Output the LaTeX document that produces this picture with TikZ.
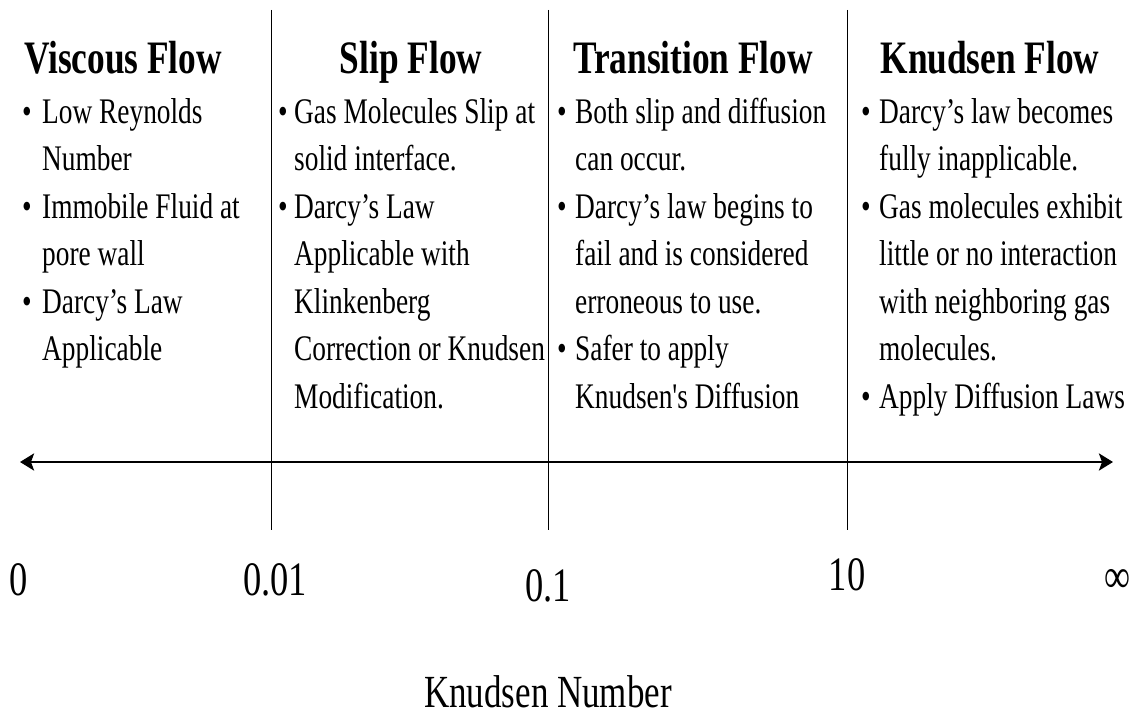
\documentclass[tikz,border=0pt]{standalone}
\usepackage{fontspec}
\setmainfont{Liberation Serif}[FakeStretch=0.76]
\newfontfamily\noligfont{Liberation Serif}[FakeStretch=0.76]
\usetikzlibrary{arrows.meta}
\tikzset{
  divider/.style={line width=0.9pt, black},
  axisline/.style={line width=2.8pt, black, {Stealth[length=14pt,width=17pt,inset=3pt]}-{Stealth[length=14pt,width=17pt,inset=3pt]}},
  titletxt/.style={inner sep=0pt, anchor=base, font=\fontsize{46.5pt}{50pt}\selectfont\bfseries},
  bodytxt/.style={inner sep=0pt, anchor=base west, font=\fontsize{36pt}{47.5pt}\selectfont},
  bul/.style={inner sep=0pt, anchor=base, font=\fontsize{36pt}{47.5pt}\selectfont},
  numtxt/.style={inner sep=0pt, anchor=base, font=\fontsize{48pt}{52pt}\selectfont},
  axislabel/.style={inner sep=0pt, anchor=base, font=\fontsize{46pt}{50pt}\selectfont},
}
\begin{document}
\begin{tikzpicture}[x=1pt,y=-1pt]
\useasboundingbox[fill=white] (0,0) rectangle (1132,717);

% dividers
\coordinate (t1) at (271,10);  \coordinate (b1) at (271,530);
\coordinate (t2) at (548,10);  \coordinate (b2) at (548,530);
\coordinate (t3) at (847,10);  \coordinate (b3) at (847,530);
\draw[divider] (t1) -- (b1);
\draw[divider] (t2) -- (b2);
\draw[divider] (t3) -- (b3);

% axis
\coordinate (axL) at (20,462);
\coordinate (axR) at (1113,462);
\draw[axisline] (axL) -- (axR);

% titles
\node[titletxt] (h1) at (123,74) {Viscous Flow};
\node[titletxt] (h2) at (411,74) {Slip Flow};
\node[titletxt] (h3) at (693,74) {Transition Flow};
\node[titletxt] (h4) at (990,74) {Knudsen Flow};

% column 1
\node[bul] (c1b1) at (27,123) {•};
\node[bodytxt] (c1l1) at (42,123) {Low Reynolds};
\node[bodytxt] (c1l2) at (42,170.5) {Number};
\node[bul] (c1b2) at (27,218) {•};
\node[bodytxt] (c1l3) at (42,218) {Immobile Fluid at};
\node[bodytxt] (c1l4) at (42,265.5) {pore wall};
\node[bul] (c1b3) at (27,313) {•};
\node[bodytxt] (c1l5) at (42,313) {Darcy’s Law};
\node[bodytxt] (c1l6) at (42,360.5) {Applicable};

% column 2
\node[bul] (c2b1) at (283,123) {•};
\node[bodytxt] (c2l1) at (294,123) {Gas Molecules Slip at};
\node[bodytxt] (c2l2) at (294,170.5) {solid interface.};
\node[bul] (c2b2) at (283,218) {•};
\node[bodytxt] (c2l3) at (294,218) {Darcy’s Law};
\node[bodytxt] (c2l4) at (294,265.5) {Applicable with};
\node[bodytxt] (c2l5) at (294,313) {Klinkenberg};
\node[bodytxt] (c2l6) at (294,360.5) {Correction or Knudsen};
\node[bodytxt] (c2l7) at (294,408) {Modification.};

% column 3
\node[bul] (c3b1) at (562,123) {•};
\node[bodytxt] (c3l1) at (575,123) {Both slip and diffusion};
\node[bodytxt] (c3l2) at (575,170.5) {can occur.};
\node[bul] (c3b2) at (562,218) {•};
\node[bodytxt] (c3l3) at (575,218) {Darcy’s law begins to};
\node[bodytxt] (c3l4) at (575,265.5) {fail and is considered};
\node[bodytxt] (c3l5) at (575,313) {erroneous to use.};
\node[bul] (c3b3) at (562,360.5) {•};
\node[bodytxt] (c3l6) at (575,360.5) {Safer to apply};
\node[bodytxt] (c3l7) at (575,408) {\noligfont Knudsen's Diffusion};

% column 4
\node[bul] (c4b1) at (866,123) {•};
\node[bodytxt] (c4l1) at (879,123) {Darcy’s law becomes};
\node[bodytxt] (c4l2) at (879,170.5) {fully inapplicable.};
\node[bul] (c4b2) at (866,218) {•};
\node[bodytxt] (c4l3) at (879,218) {Gas molecules exhibit};
\node[bodytxt] (c4l4) at (879,265.5) {little or no interaction};
\node[bodytxt] (c4l5) at (879,313) {with neighboring gas};
\node[bodytxt] (c4l6) at (879,360.5) {molecules.};
\node[bul] (c4b3) at (866,408) {•};
\node[bodytxt] (c4l7) at (879,408) {Apply Diffusion Laws};

% numbers
\node[numtxt] (n0) at (19,595) {0};
\node[numtxt] (n1) at (275,595) {0.01};
\node[numtxt] (n2) at (548,601) {0.1};
\node[numtxt] (n3) at (847,590) {10};
\node[numtxt] (n4) at (1117,592) {∞};

\node[axislabel] (kn) at (548,707) {Knudsen Number};
\end{tikzpicture}
\end{document}
